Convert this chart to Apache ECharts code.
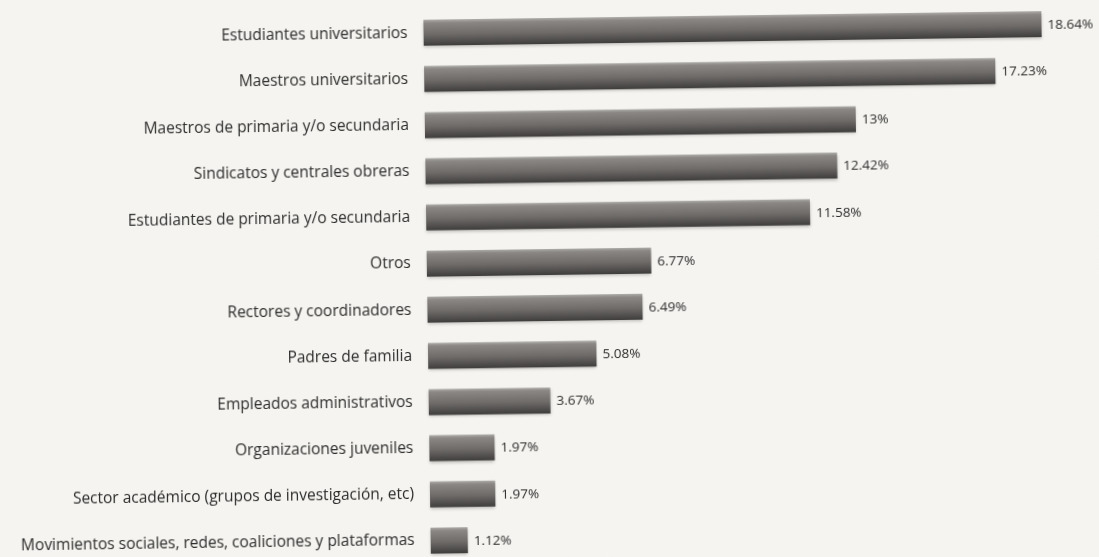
<!DOCTYPE html>
<html><head><meta charset="utf-8">
<script src="https://cdn.jsdelivr.net/npm/echarts@6/dist/echarts.min.js"></script>
<style>html,body{margin:0;padding:0;background:#f5f4f0;overflow:hidden}#c{width:1099px;height:557px;transform:rotate(-0.8deg);transform-origin:549.5px 278.5px}</style>
</head><body><div id="c"></div>
<script>
const categories = [
  "Estudiantes universitarios",
  "Maestros universitarios",
  "Maestros de primaria y/o secundaria",
  "Sindicatos y centrales obreras",
  "Estudiantes de primaria y/o secundaria",
  "Otros",
  "Rectores y coordinadores",
  "Padres de familia",
  "Empleados administrativos",
  "Organizaciones juveniles",
  "Sector académico (grupos de investigación, etc)",
  "Movimientos sociales, redes, coaliciones y plataformas"
];
const values = [18.64, 17.23, 13, 12.42, 11.58, 6.77, 6.49, 5.08, 3.67, 1.97, 1.97, 1.12];
const valueLabels = ["18.64%", "17.23%", "13%", "12.42%", "11.58%", "6.77%", "6.49%", "5.08%", "3.67%", "1.97%", "1.97%", "1.12%"];

const chart = echarts.init(document.getElementById('c'));
chart.setOption({
  backgroundColor: '#f5f4f0',
  animation: false,
  grid: { left: 427, top: 8, width: 618, height: 554, outerBoundsMode: 'none', containLabel: false },
  xAxis: { type: 'value', min: 0, max: 18.64, show: false },
  yAxis: {
    type: 'category', inverse: true, data: categories,
    axisLine: { show: false }, axisTick: { show: false },
    axisLabel: { margin: 16, color: '#2c2c2c', fontFamily: 'Open Sans', fontSize: 15.5 }
  },
  series: [{
    type: 'bar', data: values, barWidth: 26,
    itemStyle: {
      color: new echarts.graphic.LinearGradient(0, 0, 0, 1, [
        { offset: 0, color: '#aeaca8' },
        { offset: 0.12, color: '#8a8784' },
        { offset: 0.55, color: '#6e6b69' },
        { offset: 1, color: '#3f3d3c' }
      ]),
      shadowColor: 'rgba(0,0,0,0.22)', shadowBlur: 3, shadowOffsetY: 2
    },
    label: {
      show: true, position: 'right', distance: 6, offset: [0, 1], color: '#2c2c2c',
      fontFamily: 'Open Sans', fontSize: 13.5,
      formatter: p => valueLabels[p.dataIndex]
    }
  }]
});
</script></body></html>
